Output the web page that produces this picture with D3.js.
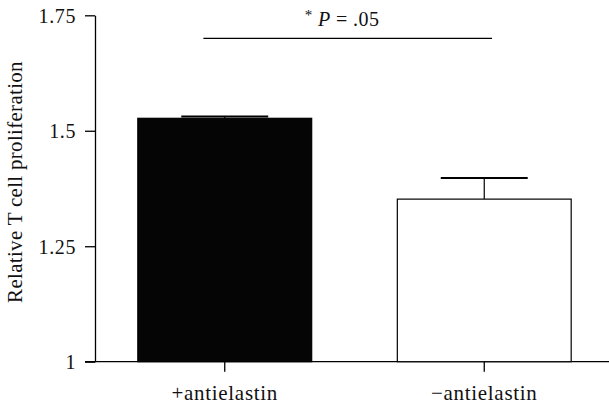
<!DOCTYPE html>
<html>
<head>
<meta charset="utf-8">
<script src="https://cdn.jsdelivr.net/npm/d3@7"></script>
<style>
  body { margin: 0; background: #fff; }
  svg text { font-family: "Liberation Serif", "Times New Roman", serif !important; fill: #111; }
</style>
</head>
<body>
<svg></svg>
<script>
// values
var categories = ["+antielastin", "\u2212antielastin"];
var means = [1.527, 1.352];
var errors = [0.004, 0.046];
var fills = ["#050505", "#ffffff"];
var yTicks = [1, 1.25, 1.5, 1.75];
var yTickLabels = ["1", "1.25", "1.5", "1.75"];
var sigLevel = 1.7;
var sigText = ".05";

var screen = {width: 609, height: 404};

var svg = d3.select("svg")
    .attr("width", screen.width)
    .attr("height", screen.height);

var xScale = d3.scaleBand()
    .domain(categories)
    .range([95, 614])
    .paddingInner(0.33)
    .paddingOuter(0.165);

var yScale = d3.scaleLinear()
    .domain([1, 1.75])
    .range([361.7, 15.3]);

var tickLen = 10;

// y axis
var yAxis = d3.axisLeft(yScale)
    .tickValues(yTicks)
    .tickFormat(function(d, i){ return yTickLabels[i]; })
    .tickSize(tickLen)
    .tickSizeOuter(0)
    .tickPadding(9);

var yg = svg.append("g")
    .attr("id", "yAxis")
    .attr("transform", "translate(" + xScale.range()[0] + ",0)")
    .call(yAxis);

yg.attr("font-family", null);
yg.selectAll("text")
    .style("font-size", "20px")
    .style("letter-spacing", "0.6px")
    .attr("dy", "0.36em");

// x axis
var xAxis = d3.axisBottom(xScale)
    .tickSize(tickLen)
    .tickSizeOuter(0)
    .tickPadding(13);

var xg = svg.append("g")
    .attr("id", "xAxis")
    .attr("transform", "translate(0," + yScale(1) + ")")
    .call(xAxis);

xg.attr("font-family", null);
xg.select(".domain").remove();
xg.selectAll("text")
    .style("font-size", "21px")
    .style("letter-spacing", "0.7px");

svg.append("line")
    .attr("x1", xScale.range()[0] - tickLen)
    .attr("x2", screen.width)
    .attr("y1", yScale(1))
    .attr("y2", yScale(1))
    .attr("stroke", "#000")
    .attr("stroke-width", 1.3);

svg.selectAll(".tick line, .domain").attr("stroke", "#000").attr("stroke-width", 1.3);

// error bars (upper only)
var bw = xScale.bandwidth();
var errG = svg.append("g").attr("id", "errors");
categories.forEach(function(c, i){
    var cx = xScale(c) + bw / 2;
    errG.append("line")
        .attr("x1", cx).attr("x2", cx)
        .attr("y1", yScale(means[i]))
        .attr("y2", yScale(means[i] + errors[i]))
        .attr("stroke", "#000")
        .attr("stroke-width", 1.2);
    errG.append("line")
        .attr("x1", cx - bw / 4).attr("x2", cx + bw / 4)
        .attr("y1", yScale(means[i] + errors[i]))
        .attr("y2", yScale(means[i] + errors[i]))
        .attr("stroke", "#000")
        .attr("stroke-width", 2);
});

// bars
svg.append("g")
    .attr("id", "bars")
    .selectAll("rect")
    .data(categories)
    .enter()
    .append("rect")
    .attr("x", function(d){ return xScale(d); })
    .attr("y", function(d, i){ return yScale(means[i]); })
    .attr("width", bw)
    .attr("height", function(d, i){ return yScale(1) - yScale(means[i]); })
    .attr("fill", function(d, i){ return fills[i]; })
    .attr("stroke", "#000")
    .attr("stroke-width", 1.2);

// significance line
var sx1 = xScale(categories[0]) + bw * 0.377;
var sx2 = xScale(categories[1]) + bw * 0.545;
svg.append("line")
    .attr("x1", sx1).attr("x2", sx2)
    .attr("y1", yScale(sigLevel)).attr("y2", yScale(sigLevel))
    .attr("stroke", "#000")
    .attr("stroke-width", 1.2);

var st = svg.append("text")
    .attr("x", 342)
    .attr("y", yScale(1.731))
    .attr("text-anchor", "middle")
    .style("font-size", "20px")
    .style("letter-spacing", "0.4px");
st.append("tspan").text("*").attr("dy", "-0.3em").style("font-size", "15px");
st.append("tspan").text(" P").attr("dy", "0.3em").style("font-style", "italic");
st.append("tspan").text(" = " + sigText);

// y label
svg.append("text")
    .attr("transform", "translate(22,182) rotate(-90)")
    .attr("text-anchor", "middle")
    .style("font-size", "21px")
    .style("letter-spacing", "0.3px")
    .text("Relative T cell proliferation");
</script>
</body>
</html>
